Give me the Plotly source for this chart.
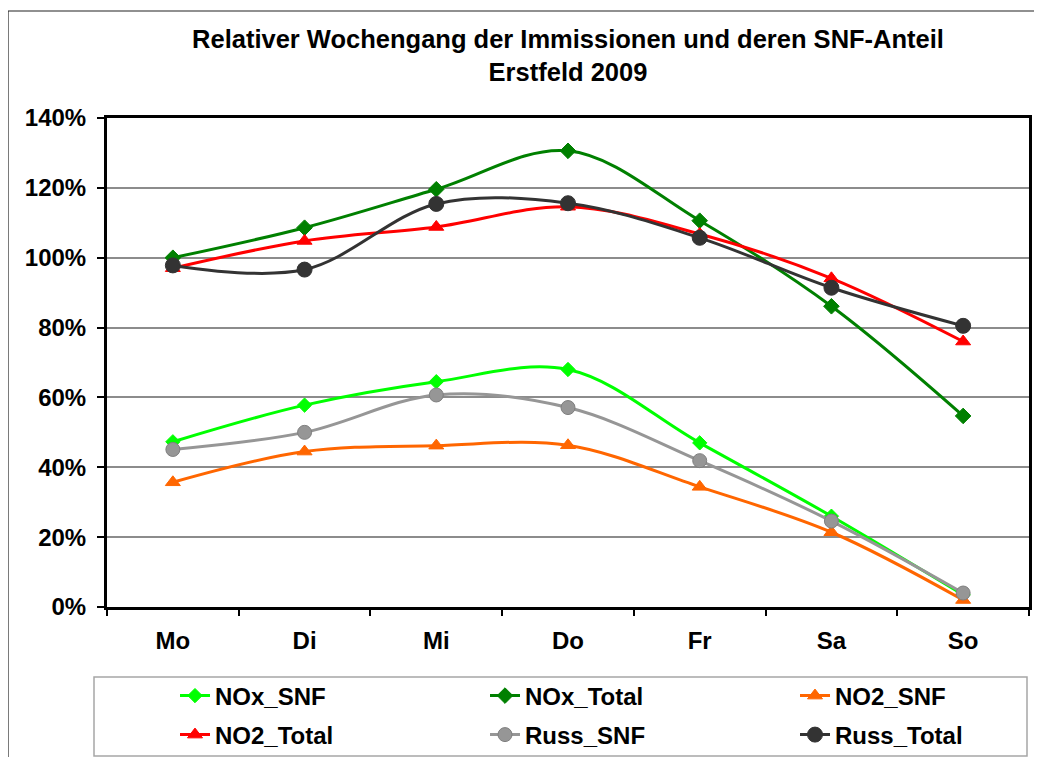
import plotly.graph_objects as go

days = ["Mo", "Di", "Mi", "Do", "Fr", "Sa", "So"]
nox_snf = [47.3, 57.8, 64.5, 68.0, 47.0, 26.0, 3.5]
nox_total = [100.0, 108.6, 119.6, 130.6, 110.6, 86.1, 54.7]
no2_snf = [35.7, 44.5, 46.2, 46.3, 34.4, 21.4, 2.0]
no2_total = [97.0, 104.8, 108.8, 114.6, 106.8, 94.1, 76.0]
russ_snf = [45.1, 50.0, 60.7, 57.1, 41.9, 24.6, 4.0]
russ_total = [97.8, 96.6, 115.4, 115.6, 105.7, 91.4, 80.5]
y_ticks = [0, 20, 40, 60, 80, 100, 120, 140]
y_tick_labels = [f"{v}%" for v in y_ticks]

FONT = "Liberation Sans, Arial, sans-serif"

# name, values, colour, symbol, size, edge colour, legend, legend entry width
series = [
    ("NOx_SNF", nox_snf, "#00FF00", "diamond", 11, "#00FF00", "legend", 265),
    ("NOx_Total", nox_total, "#008000", "diamond", 12, "#008000", "legend", 265),
    ("NO2_SNF", no2_snf, "#FF6600", "triangle-up", 13, "#FF6600", "legend", 140),
    ("NO2_Total", no2_total, "#FF0000", "triangle-up", 13, "#FF0000", "legend2", 265),
    ("Russ_SNF", russ_snf, "#969696", "circle", 14, "#7F7F7F", "legend2", 265),
    ("Russ_Total", russ_total, "#333333", "circle", 15, "#333333", "legend2", 140),
]

fig = go.Figure()
for name, vals, col, sym, size, edge, leg, lw in series:
    fig.add_trace(go.Scatter(
        x=days, y=vals, name=name, mode="lines+markers",
        line=dict(color=col, width=3, shape="spline", smoothing=1),
        marker=dict(symbol=sym, size=size, color=col, line=dict(color=edge, width=1)),
        legend=leg, legendwidth=lw,
    ))

# page body has an 8px margin: figure origin sits at (8, 8) of the viewport
OFF = 8
FIG_W, FIG_H = 1042 - OFF, 757 - OFF
# plot area in viewport px: x 107..1029, y 118..607
PL, PR, PT, PB = 107, 1029, 118, 607
W, H = PR - PL, PB - PT
def px(xp):
    return (xp - PL) / W
def py(yp):
    return (PB - yp) / H

leg_common = dict(
    orientation="h", xanchor="left", yanchor="middle",
    font=dict(family=FONT, size=24, color="black", weight="bold"),
    bgcolor="rgba(0,0,0,0)", borderwidth=0, itemclick=False,
)

fig.update_layout(
    width=FIG_W, height=FIG_H,
    margin=dict(l=PL - OFF, r=FIG_W - (PR - OFF), t=PT - OFF, b=FIG_H - (PB - OFF),
                autoexpand=False),
    paper_bgcolor="white", plot_bgcolor="white",
    font=dict(family=FONT, color="black"),
    title=dict(
        text="<b>Relativer Wochengang der Immissionen und deren SNF-Anteil<br>Erstfeld 2009</b>",
        font=dict(family=FONT, size=25.5, color="black"),
        x=0.5, xref="paper", xanchor="center",
        y=1 - 40 / FIG_H, yref="container", yanchor="middle",
    ),
    showlegend=True,
    legend=dict(leg_common, x=px(175), y=py(696)),
    legend2=dict(leg_common, x=px(175), y=py(735)),
    xaxis=dict(
        type="category", categoryorder="array", categoryarray=days,
        range=[-0.5, 6.5], tickson="boundaries",
        ticks="outside", ticklen=6, tickwidth=1.5, tickcolor="black",
        showline=True, linecolor="black", linewidth=3, mirror=True,
        showgrid=False, ticklabelstandoff=10,
        tickfont=dict(family=FONT, size=24, color="black", weight="bold"),
    ),
    yaxis=dict(
        range=[0, 140], tickmode="array", tickvals=y_ticks, ticktext=y_tick_labels,
        ticks="outside", ticklen=7, tickwidth=1.5, tickcolor="black",
        showline=True, linecolor="black", linewidth=3, mirror=True,
        showgrid=True, gridcolor="#8C8C8C", gridwidth=1.5, zeroline=False,
        ticklabelstandoff=6,
        tickfont=dict(family=FONT, size=24, color="black", weight="bold"),
    ),
    shapes=[
        # outer chart frame
        dict(type="rect", xref="paper", yref="paper",
             x0=px(8), x1=px(1100), y0=py(11), y1=py(800),
             line=dict(color="#222222", width=1.2), fillcolor="rgba(0,0,0,0)", layer="below"),
        # legend frame
        dict(type="rect", xref="paper", yref="paper",
             x0=px(94), x1=px(1027), y0=py(756), y1=py(677),
             line=dict(color="#A6A6A6", width=1.5), fillcolor="rgba(0,0,0,0)", layer="below"),
    ],
)

fig.write_html("out.html")
